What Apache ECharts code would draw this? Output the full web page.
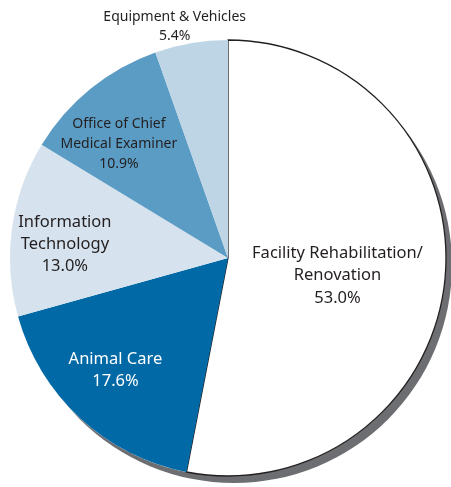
<!DOCTYPE html>
<html>
<head>
<meta charset="utf-8">
<script src="https://cdn.jsdelivr.net/npm/echarts@6/dist/echarts.min.js"></script>
<style>
  html, body { margin: 0; padding: 0; background: #fff; }
  #chart { width: 451px; height: 487px; }
</style>
</head>
<body>
<div id="chart"></div>
<script>
// data (clockwise from 12 o'clock)
const categories = [
  'Facility Rehabilitation/\nRenovation',
  'Animal Care',
  'Information\nTechnology',
  'Office of Chief\nMedical Examiner',
  'Equipment & Vehicles'
];
const shares = [53.0, 17.6, 13.0, 10.9, 5.4];

// styling
const sliceColors = ['#ffffff', '#0069a6', '#d6e3ee', '#5b9cc4', '#bed5e5'];
const labelColors = ['#231f20', '#ffffff', '#231f20', '#231f20', '#231f20'];
const labelSizes = [16.5, 16.5, 16.5, 14, 14];
const labelLines = [22.5, 22, 22, 20, 19];
// small nudges of the label positions
const labelShift = [[-2, 7], [-7, -2], [-9, 8], [-11, 7], [-27, -78]];

const center = [228, 258];
const radius = 218;
const fontFamily = '"Noto Sans", "Open Sans", sans-serif';

const chart = echarts.init(document.getElementById('chart'));

const total = shares.reduce((a, b) => a + b, 0);

// one label-only ring; "which" picks the slices whose label it shows
function labelSeries(inner, which) {
  return {
    type: 'pie',
    silent: true,
    center: center,
    radius: [inner, radius],
    startAngle: 90,
    clockwise: true,
    itemStyle: { color: 'rgba(0,0,0,0)' },
    labelLine: { show: false },
    label: {
      position: 'inside',
      fontFamily: fontFamily,
      formatter: p => p.name + '\n' + shares[p.dataIndex].toFixed(1) + '%'
    },
    labelLayout: function (params) {
      const s = labelShift[params.dataIndex];
      return { dx: s[0], dy: s[1] };
    },
    data: categories.map((name, i) => ({
      name: name,
      value: shares[i],
      label: {
        show: which(i),
        color: labelColors[i],
        fontSize: labelSizes[i],
        lineHeight: labelLines[i]
      }
    }))
  };
}

chart.setOption({
  animation: false,
  series: [
    // grey drop shadow under the whole disc
    {
      type: 'pie',
      silent: true,
      center: center,
      radius: radius,
      label: { show: false },
      labelLine: { show: false },
      itemStyle: {
        color: '#ffffff',
        shadowColor: '#6d6e71',
        shadowBlur: 0,
        shadowOffsetX: 6,
        shadowOffsetY: 7
      },
      data: [{ value: total, name: 'all' }]
    },
    // the slices
    {
      type: 'pie',
      silent: true,
      center: center,
      radius: radius,
      startAngle: 90,
      clockwise: true,
      label: { show: false },
      labelLine: { show: false },
      data: categories.map((name, i) => ({
        name: name,
        value: shares[i],
        itemStyle: i === 0
          ? { color: sliceColors[i], borderColor: '#231f20', borderWidth: 1.3 }
          : { color: sliceColors[i], borderWidth: 0 }
      }))
    },
    // big slice label at half radius, the others further out
    labelSeries(0, i => i === 0),
    labelSeries(radius * 0.4, i => i !== 0)
  ]
});

window.addEventListener('resize', () => chart.resize());
</script>
</body>
</html>
